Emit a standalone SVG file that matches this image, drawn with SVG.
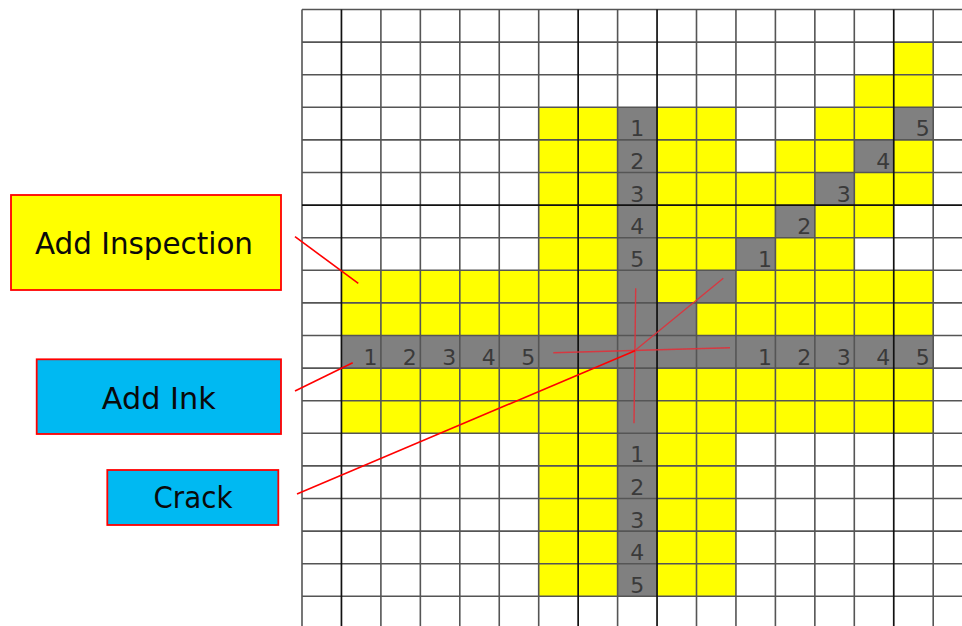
<svg xmlns="http://www.w3.org/2000/svg" width="962" height="626" viewBox="0 0 962 626">
<style>
.y{fill:#ffff00}
.g{fill:#808080}
.gl{fill:none;stroke:#555555;stroke-width:1.6}
.gd{fill:none;stroke:#111111;stroke-width:1.7}
.n{font-family:"DejaVu Sans",Verdana,sans-serif;font-size:22px;fill:#3a3a3a}
.ne{text-anchor:end}
.nc{text-anchor:middle}
.box{stroke:#ff0000;stroke-width:1.8}
.lbl{font-family:"DejaVu Sans",Tahoma,sans-serif;font-size:31px;fill:#0a0a0a;text-anchor:middle}
.con{stroke:#ff0000;stroke-width:1.6;fill:none}
.crk{stroke:#e0303a;stroke-width:1.4;fill:none;opacity:0.9}
</style>
<rect width="962" height="626" fill="#ffffff"/>
<g id="cells">
<rect class="y" x="538.7" y="107.3" width="78.9" height="489"/>
<rect class="y" x="657.05" y="107.3" width="78.9" height="489"/>
<rect class="y" x="341.45" y="270.3" width="276.15" height="163"/>
<rect class="y" x="657.05" y="270.3" width="276.15" height="163"/>
<rect class="y" x="893.75" y="42.1" width="39.45" height="32.6"/>
<rect class="y" x="854.3" y="74.7" width="78.9" height="32.6"/>
<rect class="y" x="814.85" y="107.3" width="78.9" height="32.6"/>
<rect class="y" x="775.4" y="139.9" width="78.9" height="32.6"/>
<rect class="y" x="893.75" y="139.9" width="39.45" height="32.6"/>
<rect class="y" x="735.95" y="172.5" width="78.9" height="32.6"/>
<rect class="y" x="854.3" y="172.5" width="78.9" height="32.6"/>
<rect class="y" x="735.95" y="205.1" width="39.45" height="32.6"/>
<rect class="y" x="814.85" y="205.1" width="78.9" height="32.6"/>
<rect class="y" x="775.4" y="237.7" width="78.9" height="32.6"/>
<rect class="g" x="617.6" y="107.3" width="39.45" height="489"/>
<rect class="g" x="341.45" y="335.5" width="591.75" height="32.6"/>
<rect class="g" x="696.5" y="270.3" width="39.45" height="32.6"/>
<rect class="g" x="657.05" y="302.9" width="39.45" height="32.6"/>
<rect class="g" x="893.75" y="107.3" width="39.45" height="32.6"/>
<rect class="g" x="854.3" y="139.9" width="39.45" height="32.6"/>
<rect class="g" x="814.85" y="172.5" width="39.45" height="32.6"/>
<rect class="g" x="775.4" y="205.1" width="39.45" height="32.6"/>
<rect class="g" x="735.95" y="237.7" width="39.45" height="32.6"/>
</g>
<g id="grid">
<path class="gl" d="M302 9.5V626M380.9 9.5V626M420.35 9.5V626M459.8 9.5V626M499.25 9.5V626M538.7 9.5V626M617.6 9.5V626M696.5 9.5V626M735.95 9.5V626M775.4 9.5V626M814.85 9.5V626M854.3 9.5V626M933.2 9.5V626"/>
<path class="gl" d="M302 9.5H962M302 42.1H962M302 74.7H962M302 107.3H962M302 139.9H962M302 172.5H962M302 237.7H962M302 270.3H962M302 302.9H962M302 335.5H962M302 368.1H962M302 400.7H962M302 433.3H962M302 465.9H962M302 498.5H962M302 531.1H962M302 563.7H962M302 596.3H962"/>
<path class="gd" d="M341.45 9.5V626M578.15 9.5V626M657.05 9.5V626M893.75 9.5V626M302 205.1H962"/>
</g>
<g id="numbers">
<text class="n nc" x="637.3" y="136.4">1</text>
<text class="n nc" x="637.3" y="169">2</text>
<text class="n nc" x="637.3" y="201.6">3</text>
<text class="n nc" x="637.3" y="234.2">4</text>
<text class="n nc" x="637.3" y="266.8">5</text>
<text class="n nc" x="637.3" y="462.4">1</text>
<text class="n nc" x="637.3" y="495">2</text>
<text class="n nc" x="637.3" y="527.6">3</text>
<text class="n nc" x="637.3" y="560.2">4</text>
<text class="n nc" x="637.3" y="592.8">5</text>
<text class="n ne" x="377.4" y="364.6">1</text>
<text class="n ne" x="416.8" y="364.6">2</text>
<text class="n ne" x="456.3" y="364.6">3</text>
<text class="n ne" x="495.7" y="364.6">4</text>
<text class="n ne" x="535.2" y="364.6">5</text>
<text class="n ne" x="771.9" y="364.6">1</text>
<text class="n ne" x="811.3" y="364.6">2</text>
<text class="n ne" x="850.8" y="364.6">3</text>
<text class="n ne" x="890.2" y="364.6">4</text>
<text class="n ne" x="929.7" y="364.6">5</text>
<text class="n ne" x="771.9" y="266.8">1</text>
<text class="n ne" x="811.3" y="234.2">2</text>
<text class="n ne" x="850.8" y="201.6">3</text>
<text class="n ne" x="890.2" y="169">4</text>
<text class="n ne" x="929.7" y="136.4">5</text>
</g>
<g id="crack">
<path class="crk" d="M553.3 352.7L730 347.7"/>
<path class="crk" d="M635.7 288.3L634 423.3"/>
<path class="crk" d="M635 350.5L723.3 278.3"/>
</g>
<g id="connectors">
<path class="con" d="M295 236.7L358.3 283.3"/>
<path class="con" d="M295 391L352.7 362.7"/>
<path class="con" d="M297 494L635 350.7"/>
</g>
<g id="add-inspection">
<rect class="box" x="11" y="195" width="270" height="95" fill="#ffff00"/>
<text class="lbl" x="144" y="254" textLength="218" lengthAdjust="spacingAndGlyphs">Add Inspection</text>
</g>
<g id="add-ink">
<rect class="box" x="36.7" y="359.3" width="244.3" height="74.7" fill="#00b9f2"/>
<text class="lbl" x="158.8" y="409" textLength="114" lengthAdjust="spacingAndGlyphs">Add Ink</text>
</g>
<g id="crack-label">
<rect class="box" x="107.3" y="470" width="171" height="55" fill="#00b9f2"/>
<text class="lbl" x="193" y="508.3" textLength="79" lengthAdjust="spacingAndGlyphs">Crack</text>
</g>
</svg>
